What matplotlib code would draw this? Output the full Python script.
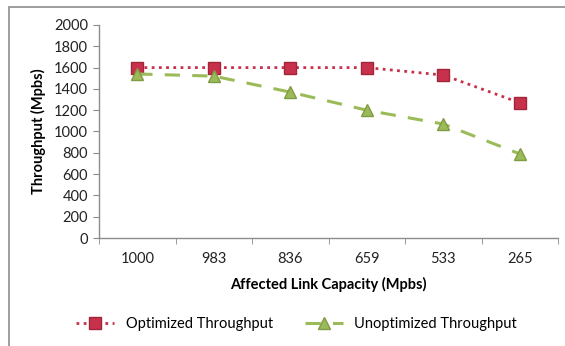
import matplotlib
matplotlib.use("Agg")
import matplotlib.pyplot as plt
import numpy as np
from matplotlib.patches import Rectangle

capacities = ["1000", "983", "836", "659", "533", "265"]
optimized = [1600, 1600, 1600, 1600, 1530, 1270]
unoptimized = [1540, 1520, 1370, 1200, 1070, 790]
y_ticks = [0, 200, 400, 600, 800, 1000, 1200, 1400, 1600, 1800, 2000]

plt.rcParams['font.family'] = ['Lato', 'DejaVu Sans']

fig = plt.figure(figsize=(5.65, 3.46), dpi=100)
fig.patch.set_facecolor('white')

# outer chart frame
fig.add_artist(Rectangle((9 / 565, -0.05), 1.2, 1 - 7 / 346 + 0.05,
                         transform=fig.transFigure, fill=False,
                         edgecolor='#8c8c8c', linewidth=1.2))

ax = fig.add_axes([99 / 565, 108 / 346, 459 / 565, 213 / 346])
x = np.arange(len(capacities))

red = '#C8314B'
green = '#9BBB59'

ax.plot(x, optimized, linestyle=(0, (1, 1.6)), color=red, linewidth=2,
        marker='s', markersize=8, markerfacecolor=red, markeredgecolor='#a02538',
        label='Optimized Throughput')
ax.plot(x, unoptimized, linestyle=(0, (5, 4)), color=green, linewidth=2.2,
        marker='^', markersize=8, markerfacecolor=green, markeredgecolor='#7f9c45',
        label='Unoptimized Throughput')

ax.set_xlim(-0.5, len(capacities) - 0.5)
ax.set_ylim(0, 2000)
ax.set_yticks(y_ticks)
ax.set_xticks(x)
ax.set_xticklabels(capacities)
ax.set_xticks(np.arange(-0.5, len(capacities), 1.0), minor=True)

for s in ['top', 'right']:
    ax.spines[s].set_visible(False)
for s in ['left', 'bottom']:
    ax.spines[s].set_color('#8c8c8c')
    ax.spines[s].set_linewidth(1)

ax.tick_params(axis='y', length=4, color='#8c8c8c', labelsize=10.5, pad=4,
               labelcolor='#222222')
ax.tick_params(axis='x', which='major', length=0, labelsize=10.5, pad=10,
               labelcolor='#222222')
ax.tick_params(axis='x', which='minor', length=4, color='#8c8c8c')

ax.set_ylabel('Throughput (Mpbs)', fontsize=10.5, fontweight='bold', labelpad=6)
ax.set_xlabel('Affected Link Capacity (Mpbs)', fontsize=10.5, fontweight='bold',
              labelpad=8)

leg = fig.legend(loc='center', bbox_to_anchor=(0.525, 22 / 346), ncol=2,
                 frameon=False, fontsize=10.5, handlelength=2.6,
                 columnspacing=2.2, handletextpad=0.8)

fig.savefig('out.png', dpi=100, facecolor='white')
